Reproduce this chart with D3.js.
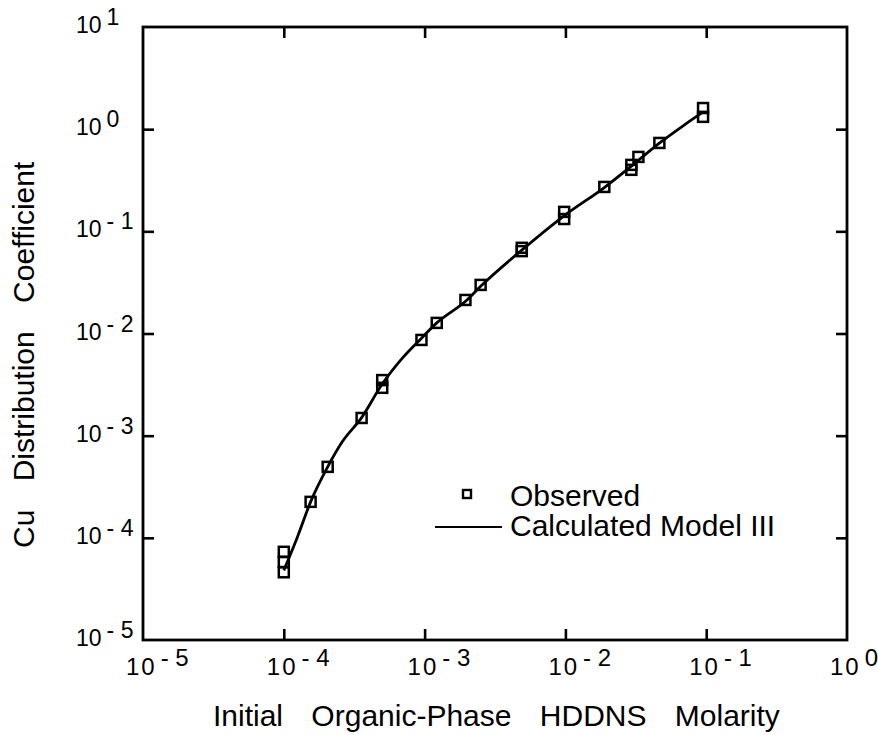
<!DOCTYPE html>
<html>
<head>
<meta charset="utf-8">
<script src="https://cdn.jsdelivr.net/npm/d3@7"></script>
<style>
  body { margin: 0; background: #fff; }
  text { font-family: "Liberation Sans", Arial, Helvetica, sans-serif; fill: #000; }
</style>
</head>
<body>
<div id="chart"></div>
<script>
// observed points
var obs_x = [1.0e-4, 1.0e-4, 1.0e-4, 1.55e-4, 2.05e-4, 3.57e-4, 5.0e-4, 5.0e-4, 9.5e-4, 1.22e-3,
             1.95e-3, 2.5e-3, 4.9e-3, 4.9e-3, 9.8e-3, 9.8e-3, 1.89e-2, 2.94e-2, 2.94e-2, 3.3e-2,
             4.65e-2, 9.5e-2, 9.5e-2];
var obs_y = [7.3e-5, 5.8e-5, 4.6e-5, 2.25e-4, 4.95e-4, 1.49e-3, 3.5e-3, 2.94e-3, 8.65e-3, 1.27e-2,
             2.13e-2, 2.99e-2, 6.9e-2, 6.4e-2, 1.55e-1, 1.32e-1, 2.72e-1, 4.47e-1, 4.0e-1, 5.35e-1,
             7.33e-1, 1.61, 1.32];

// calculated model III curve
var model_x = [1.0e-4, 1.25e-4, 1.55e-4, 2.05e-4, 2.6e-4, 3.57e-4, 5.0e-4, 7.0e-4, 9.5e-4, 1.22e-3,
               2.0e-3, 2.5e-3, 5.0e-3, 1.0e-2, 1.9e-2, 3.0e-2, 4.65e-2, 7.0e-2, 9.5e-2];
var model_y = [4.8e-5, 1.02e-4, 2.25e-4, 4.95e-4, 8.7e-4, 1.5e-3, 3.2e-3, 5.8e-3, 9.0e-3, 1.27e-2,
               2.13e-2, 2.9e-2, 6.7e-2, 1.45e-1, 2.7e-1, 4.45e-1, 7.3e-1, 1.1, 1.47];

var x_ticks = [1e-5, 1e-4, 1e-3, 1e-2, 1e-1, 1e0];
var x_tick_exp = ["- 5", "- 4", "- 3", "- 2", "- 1", "0"];
var y_ticks = [1e-5, 1e-4, 1e-3, 1e-2, 1e-1, 1e0, 1e1];
var y_tick_exp = ["- 5", "- 4", "- 3", "- 2", "- 1", "0", "1"];

var legend_labels = ["Observed", "Calculated Model III"];
var x_title = "Initial Organic-Phase HDDNS Molarity";
var y_title = "Cu Distribution Coefficient";

var width = 878, height = 735;
var left = 143, right = 847, top_ = 27, bottom = 640;

var svg = d3.select("#chart").append("svg")
  .attr("width", width)
  .attr("height", height);

var x = d3.scaleLog().domain([1e-5, 1]).range([left, right]);
var y = d3.scaleLog().domain([1e-5, 10]).range([bottom, top_]);

// frame
svg.append("rect")
  .attr("x", x(1e-5))
  .attr("y", y(10))
  .attr("width", x(1) - x(1e-5))
  .attr("height", y(1e-5) - y(10))
  .attr("fill", "none")
  .attr("stroke", "#000")
  .attr("stroke-width", 2.8);

// inward ticks on all four sides
function tick_axis (axis, transform) {
  var g = svg.append("g")
    .attr("transform", transform)
    .call(axis.tickSizeInner(-11).tickSizeOuter(0).tickFormat(""));
  g.select(".domain").remove();
  g.selectAll(".tick line").attr("stroke", "#000").attr("stroke-width", 2.6);
}
tick_axis(d3.axisBottom(x).tickValues(x_ticks.slice(1, -1)), "translate(0," + bottom + ")");
tick_axis(d3.axisTop(x).tickValues(x_ticks.slice(1, -1)), "translate(0," + top_ + ")");
tick_axis(d3.axisLeft(y).tickValues(y_ticks.slice(1, -1)), "translate(" + left + ",0)");
tick_axis(d3.axisRight(y).tickValues(y_ticks.slice(1, -1)), "translate(" + right + ",0)");

// tick labels as 10 with raised exponent
var xl = svg.append("g").selectAll("text")
  .data(x_ticks)
  .join("text")
  .attr("x", function (d) { return x(d) - 17; })
  .attr("y", bottom + 35)
  .attr("font-size", 24);
xl.append("tspan").attr("letter-spacing", 2).text("10");
xl.append("tspan").attr("dx", 4).attr("dy", -9)
  .text(function (d, i) { return x_tick_exp[i]; });

var yl = svg.append("g").selectAll("text")
  .data(y_ticks)
  .join("text")
  .attr("x", 76)
  .attr("y", function (d) { return y(d) + 6; })
  .attr("font-size", 23);
yl.append("tspan").text("10");
yl.append("tspan").attr("dx", 5).attr("dy", -8)
  .text(function (d, i) { return y_tick_exp[i]; });

// model curve
var line = d3.line()
  .curve(d3.curveMonotoneX)
  .x(function (d) { return x(d[0]); })
  .y(function (d) { return y(d[1]); });

svg.append("path")
  .datum(d3.zip(model_x, model_y))
  .attr("d", line)
  .attr("fill", "none")
  .attr("stroke", "#000")
  .attr("stroke-width", 2.8);

// observed squares
var sq = 10;
svg.append("g").selectAll("rect")
  .data(d3.zip(obs_x, obs_y))
  .join("rect")
  .attr("x", function (d) { return x(d[0]) - sq/2; })
  .attr("y", function (d) { return y(d[1]) - sq/2; })
  .attr("width", sq)
  .attr("height", sq)
  .attr("fill", "none")
  .attr("stroke", "#000")
  .attr("stroke-width", 2.5);

// legend
var leg = svg.append("g");
leg.append("rect")
  .attr("x", 467 - 4).attr("y", 494 - 4)
  .attr("width", 8).attr("height", 8)
  .attr("fill", "none").attr("stroke", "#000").attr("stroke-width", 2.4);
leg.append("line")
  .attr("x1", 435).attr("x2", 502)
  .attr("y1", 527).attr("y2", 527)
  .attr("stroke", "#000").attr("stroke-width", 2.2);
leg.selectAll("text")
  .data(legend_labels)
  .join("text")
  .attr("x", 510)
  .attr("y", function (d, i) { return 506 + i*30; })
  .attr("font-size", 30)
  .text(function (d) { return d; });

// axis titles
svg.append("text")
  .attr("x", 213)
  .attr("y", 726)
  .attr("font-size", 30)
  .attr("word-spacing", 20)
  .text(x_title);

svg.append("text")
  .attr("transform", "translate(34,548) rotate(-90)")
  .attr("font-size", 30)
  .attr("word-spacing", 20)
  .text(y_title);
</script>
</body>
</html>
